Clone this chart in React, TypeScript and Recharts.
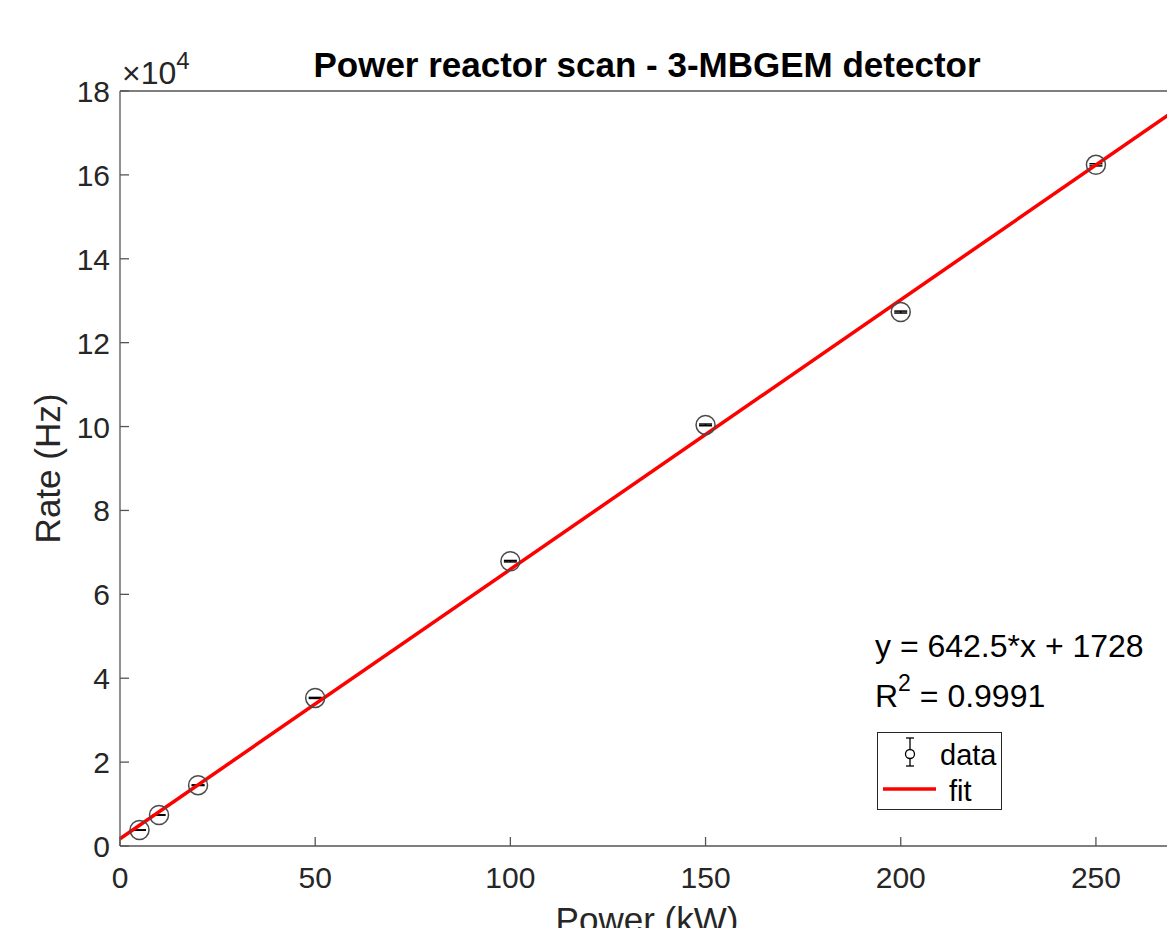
import { ComposedChart, ErrorBar, Line, Scatter, XAxis, YAxis } from "recharts";

const FONT = '"Liberation Sans", Arial, Helvetica, sans-serif';
const INK = "#262626";
const AXIS = "#555555";
const FIT_RED = "#ff0000";
const MARKER = "#4a4a4a";

// reactor power steps and measured count rates
const powerKW = [5, 10, 20, 50, 100, 150, 200, 250];
const rateHz = [3800, 7400, 14500, 35300, 67900, 100400, 127300, 162400];
const rateErr = [40, 55, 80, 120, 170, 200, 230, 260];

// linear fit result
const SLOPE = 642.5;
const INTERCEPT = 1728;
const R2 = "0.9991";

const X_MAX = 270;
const Y_MAX = 180000;
const X_TICKS = [0, 50, 100, 150, 200, 250];
const Y_TICKS = [0, 20000, 40000, 60000, 80000, 100000, 120000, 140000, 160000, 180000];

const W = 1300;
const H = 960;
// each axis takes 1px, so the plot box is 120..1174 x 91..846
const MARGIN = { top: 90, right: 125, bottom: 113, left: 119 };
const PLOT_CX = 647;
const PLOT_CY = 468.5;
const TICK_LEN = 9;

const points = powerKW.map((x, i) => ({ x, y: rateHz[i], err: rateErr[i] }));
const fitLine = [0, X_MAX].map((x) => ({ x, y: SLOPE * x + INTERCEPT }));

// ticks point inward, labels only on the bottom/left axes
function BottomTick({ x, y, payload }: any) {
  return (
    <g>
      <line x1={x} x2={x} y1={y} y2={y - TICK_LEN} stroke={AXIS} strokeWidth={1.3} />
      <text x={x} y={y + 42} textAnchor="middle" fill={INK} fontSize={30} fontFamily={FONT}>
        {payload.value}
      </text>
    </g>
  );
}

function TopTick({ x, y }: any) {
  return <line x1={x} x2={x} y1={y} y2={y + TICK_LEN} stroke={AXIS} strokeWidth={1.3} />;
}

function LeftTick({ x, y, payload }: any) {
  return (
    <g>
      <line x1={x} x2={x + TICK_LEN} y1={y} y2={y} stroke={AXIS} strokeWidth={1.3} />
      <text x={x - 10} y={y + 11} textAnchor="end" fill={INK} fontSize={30} fontFamily={FONT}>
        {payload.value / 10000}
      </text>
    </g>
  );
}

function RightTick({ x, y }: any) {
  return <line x1={x} x2={x - TICK_LEN} y1={y} y2={y} stroke={AXIS} strokeWidth={1.3} />;
}

function OpenCircle({ cx, cy }: any) {
  return <circle cx={cx} cy={cy} r={9.5} fill="none" stroke={MARKER} strokeWidth={1.5} />;
}

function Annotations() {
  return (
    <svg
      width={W}
      height={H}
      style={{ position: "absolute", left: 0, top: 0, pointerEvents: "none" }}
      fontFamily={FONT}
    >
      <text x={PLOT_CX} y={77} textAnchor="middle" fontSize={35} fontWeight="bold" fill="#000">
        Power reactor scan - 3-MBGEM detector
      </text>
      <text x={122} y={84} fontSize={32} fill={INK}>
        ×10
        <tspan dy={-15} fontSize={24}>
          4
        </tspan>
      </text>
      <text
        x={60}
        y={PLOT_CY}
        transform={`rotate(-90 60 ${PLOT_CY})`}
        textAnchor="middle"
        fontSize={35}
        fill={INK}
      >
        Rate (Hz)
      </text>
      <text x={PLOT_CX} y={932} textAnchor="middle" fontSize={35} fill={INK}>
        Power (kW)
      </text>

      <text x={875} y={657} fontSize={32} fill="#000">
        {`y = ${SLOPE}*x + ${INTERCEPT}`}
      </text>
      <text x={875} y={707} fontSize={32} fill="#000">
        R
        <tspan dy={-16} fontSize={23}>
          2
        </tspan>
        <tspan dy={16}> = {R2}</tspan>
      </text>

      {/* legend */}
      <rect x={877.5} y={732.5} width={124} height={77} fill="#fff" stroke={INK} strokeWidth={1} />
      <line x1={910} x2={910} y1={738} y2={766} stroke="#000" strokeWidth={1.3} />
      <line x1={906} x2={914} y1={738} y2={738} stroke="#000" strokeWidth={1.3} />
      <line x1={906} x2={914} y1={766} y2={766} stroke="#000" strokeWidth={1.3} />
      <circle cx={910} cy={754} r={4.5} fill="#fff" stroke="#000" strokeWidth={1.3} />
      <text x={940} y={765} fontSize={29} fill="#000">
        data
      </text>
      <line x1={883} x2={936} y1={789} y2={789} stroke={FIT_RED} strokeWidth={3.5} />
      <text x={949} y={801} fontSize={29} fill="#000">
        fit
      </text>
    </svg>
  );
}

export default function App() {
  return (
    <div
      style={{
        position: "absolute",
        left: 0,
        top: 0,
        width: 1167,
        height: 928,
        overflow: "hidden",
        background: "#fff",
      }}
    >
      <ComposedChart width={W} height={H} margin={MARGIN}>
        <XAxis
          dataKey="x"
          type="number"
          domain={[0, X_MAX]}
          ticks={X_TICKS}
          interval={0}
          height={1}
          tickSize={0}
          tickMargin={0}
          tickLine={false}
          axisLine={{ stroke: AXIS, strokeWidth: 1.3 }}
          tick={BottomTick}
        />
        <XAxis
          xAxisId="top"
          orientation="top"
          type="number"
          domain={[0, X_MAX]}
          ticks={X_TICKS}
          interval={0}
          height={1}
          tickSize={0}
          tickMargin={0}
          tickLine={false}
          axisLine={{ stroke: AXIS, strokeWidth: 1.3 }}
          tick={TopTick}
        />
        <YAxis
          dataKey="y"
          type="number"
          domain={[0, Y_MAX]}
          ticks={Y_TICKS}
          interval={0}
          width={1}
          tickSize={0}
          tickMargin={0}
          tickLine={false}
          axisLine={{ stroke: AXIS, strokeWidth: 1.3 }}
          tick={LeftTick}
        />
        <YAxis
          yAxisId="right"
          orientation="right"
          type="number"
          domain={[0, Y_MAX]}
          ticks={Y_TICKS}
          interval={0}
          width={1}
          tickSize={0}
          tickMargin={0}
          tickLine={false}
          axisLine={{ stroke: AXIS, strokeWidth: 1.3 }}
          tick={RightTick}
        />
        <Scatter data={points} dataKey="y" shape={OpenCircle} isAnimationActive={false}>
          <ErrorBar dataKey="err" direction="y" width={6.5} stroke="#000" strokeWidth={1.5} isAnimationActive={false} />
        </Scatter>
        <Line
          data={fitLine}
          dataKey="y"
          type="linear"
          stroke={FIT_RED}
          strokeWidth={3.5}
          dot={false}
          activeDot={false}
          isAnimationActive={false}
        />
      </ComposedChart>
      <Annotations />
    </div>
  );
}
